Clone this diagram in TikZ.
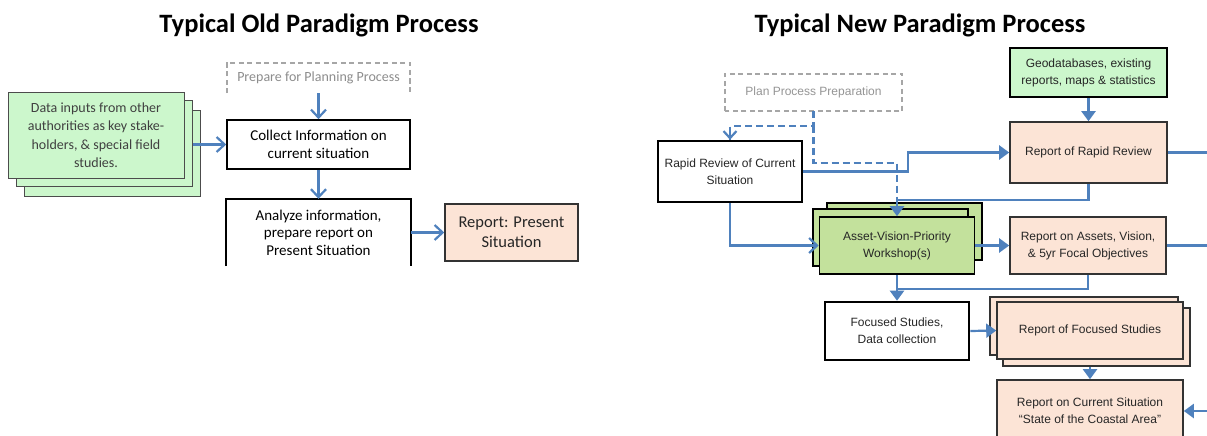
\documentclass[tikz,border=0pt]{standalone}
\usepackage{fontspec}
\setmainfont{Carlito}
\newfontfamily\arialf{Liberation Sans}
\usetikzlibrary{arrows.meta,calc}
\definecolor{lineblue}{HTML}{4F81BD}
\definecolor{peach}{HTML}{FCE4D6}
\definecolor{mint}{HTML}{CCF7CC}
\definecolor{leaf}{HTML}{C3E19C}
\definecolor{dashgray}{HTML}{A6A6A6}
\definecolor{textgray}{HTML}{404040}

\tikzset{
  title/.style={font=\bfseries\fontsize{26.5}{30}\selectfont, anchor=base},
  oldbox/.style={draw=black, line width=1.6pt, inner sep=0pt, align=center,
    font=\fontsize{15}{17.5}\selectfont},
  oldtext/.style={inner sep=0pt, align=center, font=\fontsize{15}{17.5}\selectfont},
  greenpage/.style={draw=black!70, line width=1pt, fill=mint, inner sep=0pt},
  newfont/.style={font=\arialf\fontsize{12}{17}\selectfont, text=black!85},
  newbox/.style={newfont, draw=black, line width=2.6pt, inner sep=0pt, align=center},
  peachbox/.style={newfont, draw=black!80, line width=1.6pt, fill=peach, inner sep=0pt, align=center},
  leafpage/.style={draw=black, line width=1.6pt, fill=leaf, inner sep=0pt},
  flow/.style={draw=lineblue, line width=2.2pt},
  barb/.style={flow, -{Straight Barb[length=8pt,width=15pt,line width=2.2pt]}},
  tri/.style={flow, -{Triangle[length=10pt,width=14pt]}},
  dashflow/.style={draw=lineblue, line width=2.2pt, dash pattern=on 7pt off 4pt},
  graydash/.style={draw=dashgray, line width=1.5pt, dash pattern=on 5pt off 3.5pt}
}

\begin{document}
\begin{tikzpicture}[x=1pt,y=-1pt]
\useasboundingbox (0,0) rectangle (1207,436);
\clip (0,0) rectangle (1207,436);
\fill[white] (0,0) rectangle (1207,436);

% ---------- titles ----------
\node[title] (tOld) at (319,33) {Typical Old Paradigm Process};
\node[title] (tNew) at (920,33) {Typical New Paradigm Process};

% ---------- old paradigm ----------
\node[oldtext, text=dashgray!85!black, minimum width=183pt, minimum height=30pt,
  font=\fontsize{14}{17}\selectfont] (prep) at (318.5,78) {Prepare for Planning Process};
\draw[graydash] (prep.south west) -- (prep.north west) -- (prep.north east) -- (prep.south east);

\node[oldbox, minimum width=183pt, minimum height=49pt] (collect) at (318.5,144.5)
  {Collect Information on\\current situation};

\node[oldtext, minimum width=185pt, minimum height=67pt] (analyze) at (318.5,232.5)
  {Analyze information,\\prepare report on\\Present Situation};
\draw[line width=1.6pt] (analyze.south west) -- (analyze.north west) -- (analyze.north east) -- (analyze.south east);

\node[peachbox, font=\fontsize{16.5}{19.5}\selectfont, text=black!85,
  minimum width=133pt, minimum height=57pt] (repOld) at (511.5,232.5)
  {Report: Present\\Situation};

\node[greenpage, minimum width=176pt, minimum height=86pt] (data3) at (112,153) {};
\node[greenpage, minimum width=176pt, minimum height=86pt] (data2) at (104,143.5) {};
\node[greenpage, minimum width=176pt, minimum height=86pt, align=center, text=textgray,
  font=\fontsize{14}{18.5}\selectfont] (data) at (96,135)
  {Data inputs from other\\authorities as key stake-\\holders, \& special field\\studies.};

\draw[barb] (prep.south) -- (collect.north);
\draw[barb] (collect.south) -- (analyze.north);
\draw[barb] (analyze.east) -- (repOld.west);
\draw[barb] (data2.east |- collect.west) -- (collect.west);

% ---------- new paradigm ----------
\node[newfont, text=dashgray!90!black, minimum width=177pt, minimum height=37pt, inner sep=0pt]
  (plan) at (813.5,92.5) {Plan Process Preparation};
\draw[graydash] (plan.south west) rectangle (plan.north east);

\node[newbox, minimum width=144pt, minimum height=61pt] (rapid) at (730,171.5)
  {Rapid Review of Current\\Situation};

\node[newfont, draw=black, line width=1.6pt, fill=mint, inner sep=0pt, align=center,
  minimum width=157pt, minimum height=49pt] (geo) at (1088.5,72.5)
  {Geodatabases, existing\\reports, maps \& statistics};

\node[peachbox, minimum width=157pt, minimum height=61pt] (rrr) at (1088.5,152.5)
  {Report of Rapid Review};

\node[leafpage, minimum width=155pt, minimum height=57pt] (ws3) at (904.5,231.5) {};
\node[leafpage, minimum width=155pt, minimum height=57pt] (ws2) at (890.5,237.5) {};
\node[leafpage, newfont, align=center, minimum width=155pt, minimum height=57pt]
  (ws) at (897,245.5) {Asset-Vision-Priority\\Workshop(s)};

\node[peachbox, minimum width=156pt, minimum height=57pt] (roa) at (1088,245.5)
  {Report on Assets, Vision,\\\& 5yr Focal Objectives};

\node[newbox, minimum width=144pt, minimum height=58pt] (focused) at (897,331)
  {Focused Studies,\\Data collection};

\node[peachbox, minimum width=188pt, minimum height=58pt] (rfs3) at (1084,326) {};
\node[peachbox, minimum width=187pt, minimum height=58pt] (rfs2) at (1096.5,337) {};
\node[peachbox, minimum width=186pt, minimum height=57pt] (rfs) at (1090,330.5)
  {Report of Focused Studies};

\node[peachbox, minimum width=186pt, minimum height=62pt] (rocs) at (1090,411)
  {Report on Current Situation\\“State of the Coastal Area”};

% free ends at the right margin
\coordinate (edgeA) at (1207,152.5);
\coordinate (edgeB) at (1207,245.5);
\coordinate (edgeC) at (1207,411);

% connectors
\draw[dashflow] (plan.south) -- ++(0,15) coordinate (pj) -| (rapid.north);
\draw[flow, -{Straight Barb[length=7pt,width=13pt,line width=2.2pt]}] ($(rapid.north)+(0,-7)$) -- (rapid.north);
\draw[dashflow] (pj) -- (813.5,163) -| ($(ws.north)+(0,-8)$);

\draw[tri] (rapid.east) -- ++(105,0) |- (rrr.west);
\draw[tri] (geo.south) -- (rrr.north);
\draw[flow] (rrr.east) -- (edgeA);
\draw[tri] (rrr.south) -- (1088.5,200) -| (ws.north);

\draw[barb] (rapid.south) |- (ws.west);
\draw[tri] (ws.east) -- (roa.west);
\draw[flow] (roa.east) -- (edgeB);
\draw[flow] (roa.south) |- (897,289);
\draw[tri] (ws.south) -- (focused.north);

\draw[tri] (focused.east) -- (rfs.west);
\draw[tri] (rfs2.south -| rfs.south) -- (rocs.north);
\draw[tri] (edgeC) -- (rocs.east);
\end{tikzpicture}
\end{document}
